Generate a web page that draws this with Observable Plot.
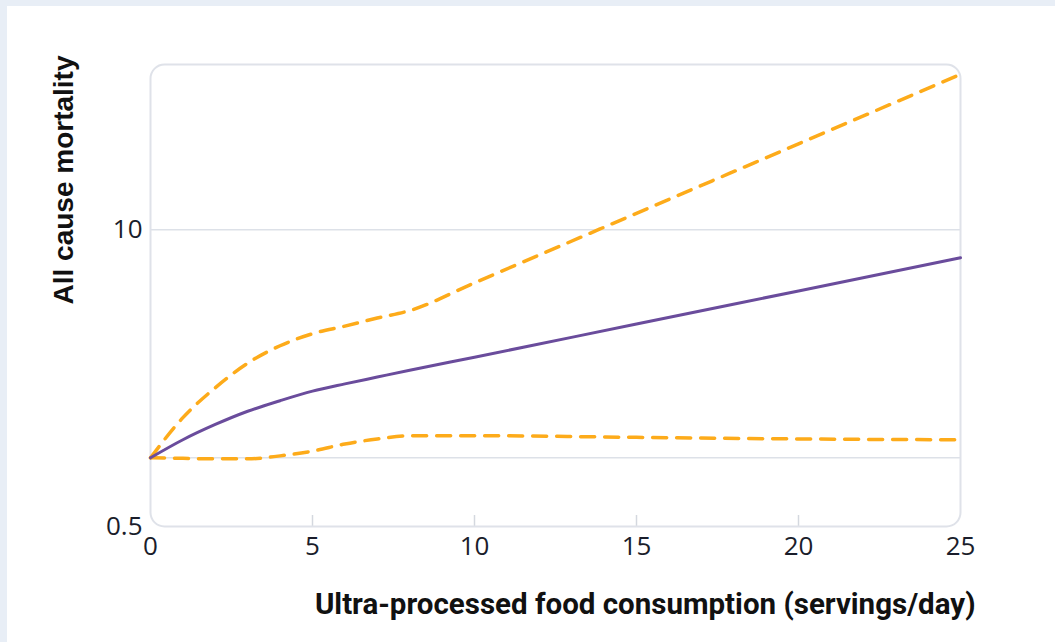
<!DOCTYPE html>
<html><head><meta charset="utf-8">
<script src="https://cdn.jsdelivr.net/npm/d3@7"></script>
<script src="https://cdn.jsdelivr.net/npm/@observablehq/plot@0.6"></script>
<style>
body{margin:0;background:#e8eef6;width:1055px;height:642px;overflow:hidden;position:relative}
#panel{position:absolute;left:7px;top:6px;width:1048px;height:636px;background:#fff}
#chart{position:absolute;left:0;top:0}
#chart svg{background:transparent}
</style></head><body><div id="panel"></div><div id="chart"></div>
<script>
const servings = [0, 1, 2, 3, 4, 5, 6, 7, 8, 10, 15, 20, 25];
const estimate = [1, 1.2, 1.4, 1.6, 1.78, 1.96, 2.11, 2.26, 2.42, 2.76, 3.86, 5.39, 7.53];
const upperCI  = [1, 1.5, 2.03, 2.6, 3.1, 3.5, 3.78, 4.1, 4.42, 5.85, 11.8, 23.8, 48];
const lowerCI  = [1, 0.995, 0.99, 0.99, 1.02, 1.07, 1.15, 1.21, 1.25, 1.25, 1.23, 1.21, 1.2];
const xTicks = [0, 5, 10, 15, 20, 25];
const innerTicks = [5, 10, 15, 20];
const yTicks = [0.5, 10];
const gridValues = [1, 10];
const xLabel = "Ultra-processed food consumption (servings/day)";
const yLabel = "All cause mortality";

const rows = (vals) => servings.map((s, i) => ({x: s, y: vals[i]}));

const tickFont = "'Open Sans', sans-serif";
const chart = Plot.plot({
  width: 1055,
  height: 642,
  marginLeft: 150,
  marginRight: 95,
  marginTop: 64,
  marginBottom: 116,
  style: {background: "transparent", color: "#1a1d2b"},
  x: {domain: [0, 25]},
  y: {type: "log", domain: [0.5, 53]},
  marks: [
    Plot.ruleY(gridValues, {stroke: "#dde1e8", strokeWidth: 1.5}),
    Plot.ruleX(innerTicks, {stroke: "#d4d8df", strokeWidth: 1.5, insetTop: 451}),
    Plot.frame({rx: 14, stroke: "#dfe2e9", strokeWidth: 2}),
    Plot.line(rows(upperCI), {x: "x", y: "y", stroke: "#fdab1a", strokeWidth: 3.5, strokeDasharray: "14,10", curve: "monotone-x"}),
    Plot.line(rows(lowerCI), {x: "x", y: "y", stroke: "#fdab1a", strokeWidth: 3.5, strokeDasharray: "14,10", curve: "monotone-x"}),
    Plot.line(rows(estimate), {x: "x", y: "y", stroke: "#6a4c9c", strokeWidth: 3, curve: "monotone-x"}),
    Plot.axisX(xTicks, {tickSize: 0, tickPadding: 10, fontSize: 26, fontFamily: tickFont, label: null, fill: "#1a1d2b"}),
    Plot.axisY(yTicks, {tickSize: 0, tickPadding: 8, fontSize: 26, fontFamily: tickFont, label: null, fill: "#1a1d2b", tickFormat: d => String(d)}),
    Plot.text([xLabel], {frameAnchor: "bottom-right", textAnchor: "end", lineAnchor: "bottom", dx: 15, dy: 87, fontSize: 29.5, fontWeight: "bold", fontFamily: "Roboto, sans-serif", fill: "#111"}),
    Plot.text([yLabel], {frameAnchor: "top-left", textAnchor: "end", lineAnchor: "middle", rotate: -90, dx: -86, dy: -9, fontSize: 28, fontWeight: "bold", fontFamily: "'Liberation Sans', Arial, sans-serif", fill: "#111"})
  ]
});
document.getElementById("chart").appendChild(chart);
</script>
</body></html>
